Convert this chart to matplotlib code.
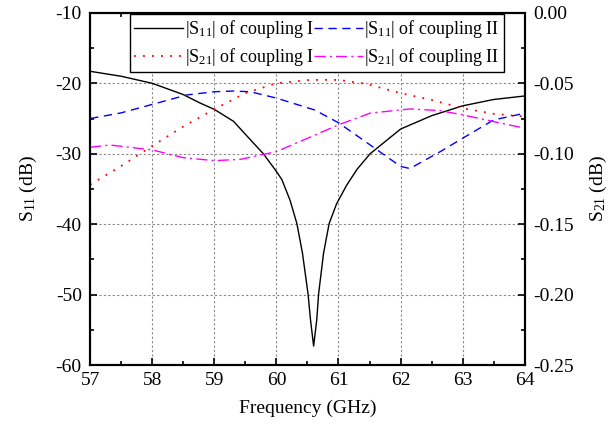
import matplotlib.pyplot as plt
from matplotlib.ticker import MultipleLocator

# |S11| of coupling I (dB, left axis)
f_s11_a = [57.0, 57.5, 58.0, 58.5, 58.77, 59.0, 59.31, 59.58, 59.79, 60.0, 60.09, 60.22, 60.33, 60.42, 60.51,
           60.55, 60.6, 60.65, 60.68, 60.76, 60.85, 60.97, 61.13, 61.3, 61.51, 62.0, 62.5, 63.0, 63.5, 64.0]
s11_a = [-18.3, -19.0, -20.0, -21.6, -22.8, -23.7, -25.4, -28.0, -30.0, -32.5, -33.7, -36.6, -39.9, -44.1, -49.9,
         -53.6, -57.3, -53.6, -49.9, -44.1, -39.9, -37.1, -34.5, -32.2, -30.0, -26.5, -24.6, -23.2, -22.3, -21.8]

# |S11| of coupling II (dB, left axis)
f_s11_b = [57.0, 57.5, 58.0, 58.56, 59.0, 59.3, 59.58, 60.0, 60.62, 61.0, 61.51, 62.0, 62.15, 62.64, 63.0, 63.5, 64.0]
s11_b = [-25.0, -24.2, -23.0, -21.65, -21.2, -21.1, -21.2, -22.1, -23.8, -25.6, -28.75, -31.8, -32.1, -29.7, -27.8, -25.2, -24.25]

# |S21| of coupling I (dB, right axis)
f_s21_a = [57.0, 57.5, 58.0, 58.5, 59.0, 59.5, 60.0, 60.54, 61.0, 61.45, 62.0, 62.5, 63.0, 63.5, 64.0]
s21_a = [-0.122, -0.1087, -0.0945, -0.0807, -0.0684, -0.057, -0.050, -0.0476, -0.0476, -0.0504,
         -0.057, -0.0618, -0.0677, -0.0717, -0.0736]

# |S21| of coupling II (dB, right axis)
f_s21_b = [57.0, 57.32, 58.0, 58.5, 59.0, 59.42, 60.0, 60.54, 61.0, 61.51, 62.15, 62.64, 63.0, 63.5, 64.0]
s21_b = [-0.0954, -0.0938, -0.0973, -0.1028, -0.1049, -0.104, -0.0985, -0.0883, -0.0795, -0.0712,
         -0.0682, -0.0694, -0.0724, -0.0772, -0.0819]

plt.rcParams['font.family'] = 'Liberation Serif'
plt.rcParams['mathtext.default'] = 'regular'
plt.rcParams['axes.unicode_minus'] = False
plt.rcParams['font.size'] = 14

fig = plt.figure(figsize=(6.13, 4.28), dpi=100)
ax = fig.add_axes([0.147, 0.147, 0.709, 0.823])
ax2 = ax.twinx()

l1, = ax.plot(f_s11_a, s11_a, color='black', linestyle='-', linewidth=1.0, label='|S$_{11}$| of coupling I')
l2, = ax.plot(f_s11_b, s11_b, color='blue', linestyle=(0, (6, 4)), linewidth=1.0, label='|S$_{11}$| of coupling II')
l3, = ax2.plot(f_s21_a, s21_a, color='red', linestyle=(0, (1, 4)), linewidth=1.3, label='|S$_{21}$| of coupling I')
l4, = ax2.plot(f_s21_b, s21_b, color='magenta', linestyle=(0, (8, 3, 1.5, 3)), linewidth=1.0, label='|S$_{21}$| of coupling II')

ax.set_xlim(57, 64)
ax.set_ylim(-60, -10)
ax2.set_ylim(-0.25, 0.0)

ax.xaxis.set_major_locator(MultipleLocator(1))
ax.xaxis.set_minor_locator(MultipleLocator(0.5))
ax.yaxis.set_major_locator(MultipleLocator(10))
ax.yaxis.set_minor_locator(MultipleLocator(5))
ax2.yaxis.set_major_locator(MultipleLocator(0.05))
ax2.yaxis.set_minor_locator(MultipleLocator(0.025))
ax2.yaxis.set_major_formatter(plt.FormatStrFormatter('%.2f'))

ax.tick_params(axis='x', which='both', direction='in', top=True, bottom=True, labelsize=14, pad=5)
ax.tick_params(axis='y', which='both', direction='in', right=False, labelsize=14, pad=6)
ax2.tick_params(axis='y', which='both', direction='in', labelsize=14, pad=6)
for a in (ax, ax2):
    a.tick_params(which='major', length=5, width=1.2)
    a.tick_params(which='minor', length=3, width=1.2)
    for s in a.spines.values():
        s.set_linewidth(1.5)

ax.grid(True, which='major', linestyle=(0, (2, 2)), color='#888888', linewidth=0.8)
ax.set_axisbelow(True)

ax.set_xlabel('Frequency (GHz)', fontsize=14, labelpad=8)
ax.set_ylabel('S$_{11}$ (dB)', fontsize=14, labelpad=12)
ax2.set_ylabel('S$_{21}$ (dB)', fontsize=14, labelpad=10)

leg = ax2.legend(handles=[l1, l3, l2, l4], ncol=2, loc='upper right', bbox_to_anchor=(0.952, 0.997),
                 fontsize=13, handlelength=2.7, handletextpad=0.1, columnspacing=0.0,
                 borderpad=0.25, labelspacing=0.3, borderaxespad=0, fancybox=False, framealpha=1)
leg.get_frame().set_edgecolor('black')
leg.get_frame().set_linewidth(1.0)

fig.savefig('out.png', dpi=100)
